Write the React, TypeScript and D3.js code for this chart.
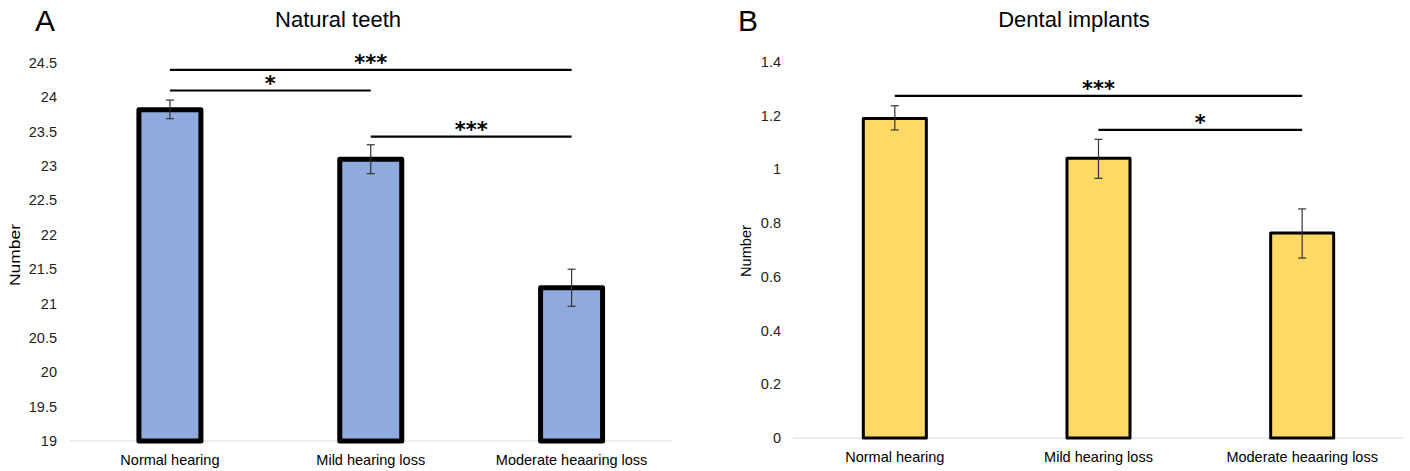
import React from "react";
import * as d3 from "d3";

const categories = ["Normal hearing", "Mild hearing loss", "Moderate heaaring loss"];

const teethMeans = [23.82, 23.1, 21.23];
const teethErrLow = [23.69, 22.89, 20.96];
const teethErrHigh = [23.96, 23.31, 21.5];
const teethTicks = [19, 19.5, 20, 20.5, 21, 21.5, 22, 22.5, 23, 23.5, 24, 24.5];
const teethTickLabels = ["19", "19.5", "20", "20.5", "21", "21.5", "22", "22.5", "23", "23.5", "24", "24.5"];
const teethSig = [
  { from: 0, to: 2, level: 24.4, label: "***" },
  { from: 0, to: 1, level: 24.1, label: "*" },
  { from: 1, to: 2, level: 23.43, label: "***" },
];

const implantMeans = [1.19, 1.042, 0.763];
const implantErrLow = [1.147, 0.967, 0.67];
const implantErrHigh = [1.237, 1.112, 0.853];
const implantTicks = [0, 0.2, 0.4, 0.6, 0.8, 1, 1.2, 1.4];
const implantTickLabels = ["0", "0.2", "0.4", "0.6", "0.8", "1", "1.2", "1.4"];
const implantSig = [
  { from: 0, to: 2, level: 1.274, label: "***" },
  { from: 1, to: 2, level: 1.147, label: "*" },
];

const FONT = "'Liberation Sans', Arial, sans-serif";

type PanelProps = {
  letter: string;
  title: string;
  means: number[];
  lo: number[];
  hi: number[];
  ticks: number[];
  tickLabels: string[];
  sig: { from: number; to: number; level: number; label: string }[];
  domain: [number, number];
  x0: number;
  x1: number;
  yBottom: number;
  yTop: number;
  fill: string;
  strokeW: number;
  barW: number;
  letterX: number;
  titleX: number;
  ylabX: number;
  ylabY: number;
  ylabLen: number;
  tickX: number;
  catY: number;
};

function Panel(p: PanelProps) {
  const x = d3.scaleBand<string>().domain(categories).range([p.x0, p.x1]);
  const y = d3.scaleLinear().domain(p.domain).range([p.yBottom, p.yTop]);
  const cx = (i: number) => (x(categories[i]) as number) + x.bandwidth() / 2;
  return (
    <g>
      <text x={p.letterX} y={31} fontFamily={FONT} fontSize={30} fill="#000">{p.letter}</text>
      <text x={p.titleX} y={27} fontFamily={FONT} fontSize={22} textAnchor="middle" fill="#000">{p.title}</text>
      <text
        transform={`translate(${p.ylabX},${p.ylabY}) rotate(-90)`}
        fontFamily={FONT}
        fontSize={15}
        textAnchor="middle"
        textLength={p.ylabLen}
        lengthAdjust="spacingAndGlyphs"
        fill="#000"
      >Number</text>
      {p.ticks.map((t, i) => (
        <text key={i} x={p.tickX} y={y(t) + 5} fontFamily={FONT} fontSize={14.5} textAnchor="end" fill="#222">
          {p.tickLabels[i]}
        </text>
      ))}
      <line x1={p.x0} x2={p.x1} y1={p.yBottom} y2={p.yBottom} stroke="#d9d9d9" strokeWidth={1} />
      {p.means.map((m, i) => (
        <rect
          key={i}
          x={cx(i) - p.barW / 2}
          y={y(m)}
          width={p.barW}
          height={p.yBottom - y(m)}
          fill={p.fill}
          stroke="#000"
          strokeWidth={p.strokeW}
          strokeLinejoin="round"
        />
      ))}
      {p.means.map((m, i) => (
        <g key={i} stroke="#333" strokeWidth={1.2}>
          <line x1={cx(i)} x2={cx(i)} y1={y(p.hi[i])} y2={y(p.lo[i])} />
          <line x1={cx(i) - 4} x2={cx(i) + 4} y1={y(p.hi[i])} y2={y(p.hi[i])} />
          <line x1={cx(i) - 4} x2={cx(i) + 4} y1={y(p.lo[i])} y2={y(p.lo[i])} />
        </g>
      ))}
      {p.sig.map((s, i) => (
        <g key={i}>
          <line x1={cx(s.from)} x2={cx(s.to)} y1={y(s.level)} y2={y(s.level)} stroke="#000" strokeWidth={2.2} />
          <text
            x={(cx(s.from) + cx(s.to)) / 2}
            y={y(s.level) + 0.5}
            fontFamily="'DejaVu Sans', sans-serif"
            fontWeight="bold"
            fontSize={21}
            textAnchor="middle"
            fill="#000"
          >{s.label}</text>
        </g>
      ))}
      {categories.map((c, i) => (
        <text key={i} x={cx(i)} y={p.catY} fontFamily={FONT} fontSize={14.5} textAnchor="middle" fill="#000">
          {c}
        </text>
      ))}
    </g>
  );
}

export default function App() {
  return (
    <svg width={1410} height={471} style={{ position: "absolute", left: 0, top: 0, background: "#fff" }}>
      <rect x={0} y={0} width={1410} height={471} fill="#fff" />
      <Panel
        letter="A"
        title="Natural teeth"
        means={teethMeans}
        lo={teethErrLow}
        hi={teethErrHigh}
        ticks={teethTicks}
        tickLabels={teethTickLabels}
        sig={teethSig}
        domain={[19, 24.5]}
        x0={69.5}
        x1={672}
        yBottom={441}
        yTop={63}
        fill="#8faadc"
        strokeW={5}
        barW={62}
        letterX={35}
        titleX={338}
        ylabX={20}
        ylabY={255}
        ylabLen={62}
        tickX={57}
        catY={465}
      />
      <Panel
        letter="B"
        title="Dental implants"
        means={implantMeans}
        lo={implantErrLow}
        hi={implantErrHigh}
        ticks={implantTicks}
        tickLabels={implantTickLabels}
        sig={implantSig}
        domain={[0, 1.4]}
        x0={793}
        x1={1404}
        yBottom={438}
        yTop={62}
        fill="#ffd966"
        strokeW={3}
        barW={63}
        letterX={738}
        titleX={1074}
        ylabX={751}
        ylabY={251}
        ylabLen={52}
        tickX={781}
        catY={462}
      />
    </svg>
  );
}
